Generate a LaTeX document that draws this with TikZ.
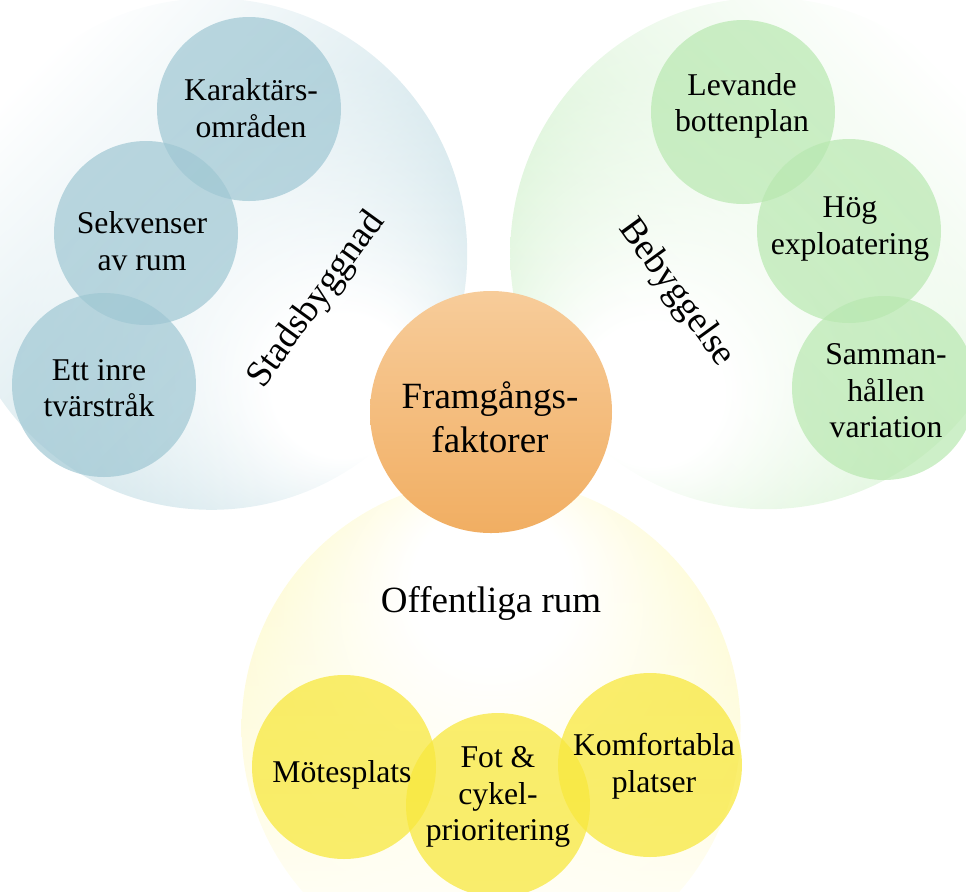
\documentclass[tikz,border=0pt]{standalone}
\usepackage{fontspec}
\setmainfont{Liberation Serif}
\usetikzlibrary{fadings}
\definecolor{bluebig}{RGB}{174,209,219}
\definecolor{greenbig}{RGB}{194,236,188}
\definecolor{yellowbig}{RGB}{253,245,158}
\definecolor{bluesm}{RGB}{159,199,211}
\definecolor{greensm}{RGB}{184,232,176}
\definecolor{yellowsm}{RGB}{248,232,62}
\definecolor{orangetop}{RGB}{247,204,154}
\definecolor{orangebot}{RGB}{241,174,98}
\pgfdeclareradialshading{blueglow}{\pgfpoint{15bp}{-15bp}}{color(0bp)=(white); color(7bp)=(white); color(26bp)=(bluebig!75!white); color(50bp)=(bluebig)}
\pgfdeclareradialshading{greenglow}{\pgfpoint{-13bp}{-16bp}}{color(0bp)=(white); color(7bp)=(white); color(26bp)=(greenbig!75!white); color(50bp)=(greenbig)}
\pgfdeclareradialshading{yellowglow}{\pgfpoint{0bp}{17bp}}{color(0bp)=(white); color(8bp)=(white); color(28bp)=(yellowbig!70!white); color(50bp)=(yellowbig)}
\tikzfading[name=crescfade, left color=transparent!100, middle color=transparent!25, right color=transparent!0]
\newcommand\itemfont{\fontsize{15.85}{18.25}\selectfont}
\newcommand\headfont{\fontsize{18.5}{22}\selectfont}
\begin{document}
\begin{tikzpicture}[x=0.5pt,y=-0.5pt,
  smallc/.style={circle, minimum size=92pt, inner sep=0pt, draw=none, fill opacity=0.7},
  bluec/.style={smallc, fill=bluesm},
  greenc/.style={smallc, fill=greensm},
  yellowc/.style={smallc, fill=yellowsm, fill opacity=0.75},
  itemtext/.style={align=center, font=\itemfont, inner sep=0pt, text=black},
  headtext/.style={align=center, font=\headfont, inner sep=0pt, text=black}]
\useasboundingbox (0,0) rectangle (966,891);
\clip (0,0) rectangle (966,891);
% big shaded circles, fading away from the centre
\shade[shading=blueglow, path fading=crescfade, fading angle=-45] (212,254) circle (256);
\shade[shading=greenglow, path fading=crescfade, fading angle=-135] (766,254) circle (256);
\shade[shading=yellowglow, path fading=crescfade, fading angle=90] (490,727) circle (250);
% centre
\node[circle, minimum size=121pt, inner sep=0pt, top color=orangetop, bottom color=orangebot] (core) at (491,412) {};
% small circles
\node[bluec] (c1) at (249,109) {};
\node[bluec] (c2) at (146,233) {};
\node[bluec] (c3) at (104,385) {};
\node[greenc] (g1) at (743,112) {};
\node[greenc] (g2) at (849,231) {};
\node[greenc] (g3) at (884,388) {};
\node[yellowc] (y1) at (344,767) {};
\node[yellowc] (y2) at (498,805) {};
\node[yellowc] (y3) at (650,765) {};
% texts
\node[itemtext] (t1) at (251,108) {Karaktärs-\\områden};
\node[itemtext] (t2) at (142,241) {Sekvenser\\av rum};
\node[itemtext] (t3) at (99,388) {Ett inre\\tvärstråk};
\node[itemtext] (t4) at (742,106) {Levande\\bottenplan};
\node[itemtext] (t5) at (850,229) {Hög\\exploatering};
\node[itemtext] (t6) at (886,391) {Samman-\\hållen\\variation};
\node[itemtext] (t7) at (342,775) {Mötesplats};
\node[itemtext] (t8) at (498,797) {Fot \&\\cykel-\\prioritering};
\node[itemtext] (t9) at (654,766) {Komfortabla\\platser};
\node[headtext] (tc) at (490,417) {Framgångs-\\faktorer};
\node[headtext, rotate=54] (ts) at (317,300) {Stadsbyggnad};
\node[headtext, rotate=-54] (tb) at (676,293) {Bebyggelse};
\node[headtext] (to) at (491,603) {Offentliga rum};
\end{tikzpicture}
\end{document}
